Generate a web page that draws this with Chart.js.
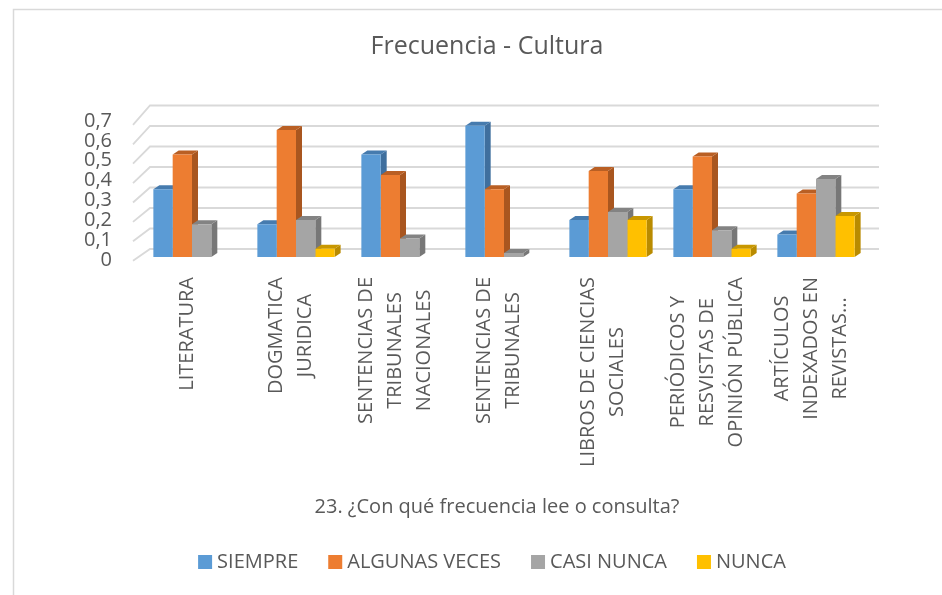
<!DOCTYPE html>
<html lang="es">
<head>
<meta charset="utf-8">
<title>Frecuencia - Cultura</title>
<script src="https://cdn.jsdelivr.net/npm/chart.js@4.4.0/dist/chart.umd.min.js"></script>
<style>
    html, body { margin: 0; padding: 0; background: #ffffff; }
    #wrap { position: relative; width: 942px; height: 595px; }
</style>
</head>
<body>
<div id="wrap"><canvas id="chart" width="942" height="595"></canvas></div>
<script>
// Chart data
const categories = [
    ['LITERATURA'],
    ['DOGMATICA', 'JURIDICA'],
    ['SENTENCIAS DE', 'TRIBUNALES', 'NACIONALES'],
    ['SENTENCIAS DE', 'TRIBUNALES'],
    ['LIBROS DE CIENCIAS', 'SOCIALES'],
    ['PERIÓDICOS Y', 'RESVISTAS DE', 'OPINIÓN PÚBLICA'],
    ['ARTÍCULOS', 'INDEXADOS EN', 'REVISTAS...']
];
const seriesNames = ['SIEMPRE', 'ALGUNAS VECES', 'CASI NUNCA', 'NUNCA'];
const siempre = [0.33, 0.16, 0.50, 0.64, 0.18, 0.33, 0.11];
const algunasVeces = [0.50, 0.62, 0.40, 0.33, 0.42, 0.49, 0.31];
const casiNunca = [0.16, 0.18, 0.09, 0.02, 0.22, 0.13, 0.38];
const nunca = [0, 0.04, 0, 0, 0.18, 0.04, 0.20];
const yTicks = [0, 0.1, 0.2, 0.3, 0.4, 0.5, 0.6, 0.7];
const yTickLabels = ['0', '0,1', '0,2', '0,3', '0,4', '0,5', '0,6', '0,7'];

const chartTitle = 'Frecuencia - Cultura';
const axisTitle = '23. ¿Con qué frecuencia lee o consulta?';

// Colours: front face / darker side face / top face
const frontColors = ['#5B9BD5', '#ED7D31', '#A5A5A5', '#FFC000'];
const sideColors = ['#3F6F9E', '#A9561F', '#777777', '#B98B00'];
const topColors = ['#467BAE', '#B95F24', '#838383', '#C89700'];

const FONT = "'Open Sans', sans-serif";
const TEXT_COLOR = '#595959';
const GRID_COLOR = '#D9D9D9';
const DEPTH_X = 6;
const DEPTH_Y = 4;

/**
 * Back wall gridlines with the slanted left edge
 */
const wallPlugin = {
    id: 'wall',
    beforeDatasetsDraw(chart) {
        const { ctx, chartArea, scales } = chart;
        const y = scales.y;
        ctx.save();
        ctx.strokeStyle = GRID_COLOR;
        ctx.lineWidth = 1.8;
        yTicks.forEach(v => {
            const p = y.getPixelForValue(v);
            const backY = p - 8;
            const frontY = chartArea.bottom + 3.7 - (chartArea.bottom - p) * 0.946;
            ctx.beginPath();
            ctx.moveTo(chartArea.left - 7, frontY);
            ctx.lineTo(chartArea.left + 10, backY);
            ctx.lineTo(chartArea.right + 11, backY);
            ctx.stroke();
        });
        ctx.restore();
    }
};

/**
 * Side and top faces of each bar, drawn behind the front faces
 */
const depthPlugin = {
    id: 'depth',
    beforeDatasetsDraw(chart) {
        const { ctx } = chart;
        ctx.save();
        chart.data.datasets.forEach((ds, i) => {
            const meta = chart.getDatasetMeta(i);
            meta.data.forEach((bar, j) => {
                if (!ds.data[j]) return;
                const left = bar.x - bar.width / 2;
                const right = bar.x + bar.width / 2;
                const top = bar.y;
                const base = bar.base;

                // side
                ctx.fillStyle = sideColors[i];
                ctx.beginPath();
                ctx.moveTo(right, top);
                ctx.lineTo(right + DEPTH_X, top - DEPTH_Y);
                ctx.lineTo(right + DEPTH_X, base - DEPTH_Y);
                ctx.lineTo(right, base);
                ctx.closePath();
                ctx.fill();

                // top
                ctx.fillStyle = topColors[i];
                ctx.beginPath();
                ctx.moveTo(left, top);
                ctx.lineTo(left + DEPTH_X, top - DEPTH_Y);
                ctx.lineTo(right + DEPTH_X, top - DEPTH_Y);
                ctx.lineTo(right, top);
                ctx.closePath();
                ctx.fill();
            });
        });
        ctx.restore();
    }
};

/**
 * Titles, tick labels, category labels, legend and frame
 */
const textPlugin = {
    id: 'texts',
    afterDraw(chart) {
        const { ctx, chartArea, scales } = chart;
        ctx.save();

        // frame
        ctx.strokeStyle = GRID_COLOR;
        ctx.lineWidth = 1.5;
        ctx.strokeRect(13.5, 9.5, 1000, 700);

        ctx.fillStyle = TEXT_COLOR;
        ctx.textBaseline = 'middle';

        // title
        ctx.font = `25px ${FONT}`;
        ctx.textAlign = 'center';
        ctx.fillText(chartTitle, 487, 47);

        // y tick labels
        ctx.font = `20px ${FONT}`;
        ctx.textAlign = 'right';
        yTicks.forEach((v, i) => {
            const p = scales.y.getPixelForValue(v);
            const labelY = chartArea.bottom + 3 - (chartArea.bottom - p) * 0.969;
            ctx.fillText(yTickLabels[i], 112, labelY);
        });

        // category labels, rotated, lines centred on each other
        ctx.font = `20px ${FONT}`;
        ctx.textAlign = 'center';
        const lineGap = 29;
        categories.forEach((lines, i) => {
            const cx = scales.x.getPixelForValue(i) - 5;
            const longest = Math.max(...lines.map(l => ctx.measureText(l).width));
            const midY = 277 + longest / 2;
            ctx.save();
            ctx.translate(cx, midY);
            ctx.rotate(-Math.PI / 2);
            lines.forEach((line, k) => {
                const off = (k - (lines.length - 1) / 2) * lineGap;
                ctx.fillText(line, 0, off);
            });
            ctx.restore();
        });

        // axis title
        ctx.font = `20px ${FONT}`;
        ctx.textAlign = 'center';
        ctx.fillText(axisTitle, 497, 507);

        // legend
        ctx.font = `20px ${FONT}`;
        ctx.textAlign = 'left';
        const box = 14;
        const gapBox = 5;
        const gapItem = 30;
        const widths = seriesNames.map(n => box + gapBox + ctx.measureText(n).width);
        const total = widths.reduce((a, b) => a + b, 0) + gapItem * (widths.length - 1);
        let x = 492 - total / 2;
        const ly = 562;
        seriesNames.forEach((name, i) => {
            ctx.fillStyle = frontColors[i];
            ctx.fillRect(x, ly - box / 2, box, box);
            ctx.fillStyle = TEXT_COLOR;
            ctx.fillText(name, x + box + gapBox, ly);
            x += widths[i] + gapItem;
        });

        ctx.restore();
    }
};

const seriesValues = [siempre, algunasVeces, casiNunca, nunca];

const ctx = document.getElementById('chart').getContext('2d');
const chart = new Chart(ctx, {
    type: 'bar',
    data: {
        labels: categories.map(c => c.join(' ')),
        datasets: seriesNames.map((name, i) => ({
            label: name,
            data: seriesValues[i],
            backgroundColor: frontColors[i],
            borderWidth: 0,
            categoryPercentage: 0.743,
            barPercentage: 1
        }))
    },
    options: {
        responsive: false,
        animation: false,
        layout: {
            padding: { left: 140, right: 74, top: 113.5, bottom: 338 }
        },
        scales: {
            x: { display: false },
            y: { display: false, min: 0, max: 0.7 }
        },
        plugins: {
            legend: { display: false },
            title: { display: false },
            tooltip: { enabled: false }
        }
    },
    plugins: [wallPlugin, depthPlugin, textPlugin]
});
</script>
</body>
</html>
